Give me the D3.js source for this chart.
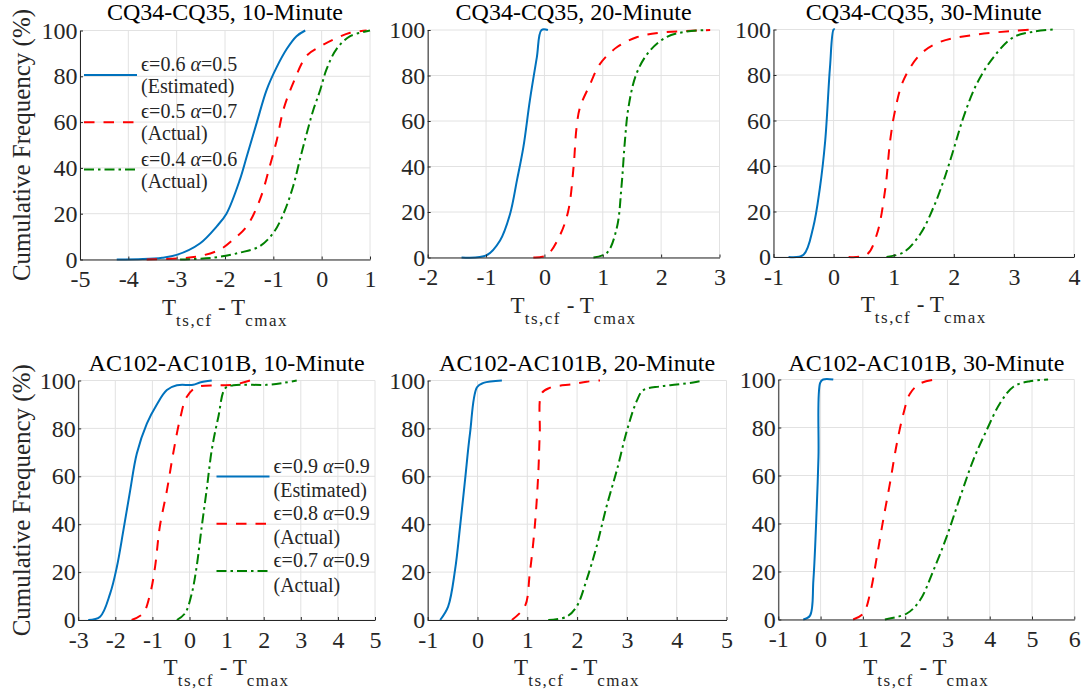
<!DOCTYPE html>
<html>
<head>
<meta charset="utf-8">
<script src="https://cdn.jsdelivr.net/npm/d3@7"></script>
<style>
  body { margin: 0; background: #fff; }
  .grid line { stroke: #e2e2e2; stroke-width: 1; }
  .axis path, .axis line { stroke: #262626; stroke-width: 1; }
</style>
</head>
<body>
<svg width="1085" height="698"></svg>
<script>
// panel titles and x ranges
var titles = ["CQ34-CQ35, 10-Minute", "CQ34-CQ35, 20-Minute", "CQ34-CQ35, 30-Minute",
              "AC102-AC101B, 10-Minute", "AC102-AC101B, 20-Minute", "AC102-AC101B, 30-Minute"];
var xDomains = [[-5, 1], [-2, 3], [-1, 4], [-3, 5], [-1, 5], [-1, 6]];
var yTicks = [0, 20, 40, 60, 80, 100];

// legend text
var topEps = ["0.6", "0.5", "0.4"], topAlpha = ["0.5", "0.7", "0.6"];
var botEps = ["0.9", "0.8", "0.7"], botAlpha = ["0.9", "0.9", "0.9"];
var kinds = ["(Estimated)", "(Actual)", "(Actual)"];

// cumulative curves [T_ts,cf - T_cmax, %]
var cq10Est = [[-4.24,0],[-3.7,0.2],[-3.3,0.8],[-3.0,2],[-2.52,7],[-2.17,14.5],[-1.97,20],[-1.69,35],[-1.55,45],[-1.34,60],[-1.14,74],[-0.93,84],[-0.72,92],[-0.52,97.5],[-0.34,100]];
var cq10Act1 = [[-3.62,0],[-2.93,0.5],[-2.52,1.5],[-2.1,4.4],[-1.83,8.7],[-1.55,14.5],[-1.28,26],[-1.07,41],[-0.93,52],[-0.79,65.5],[-0.59,77],[-0.31,89],[-0.03,93],[0.24,96],[0.59,99],[0.93,100]];
var cq10Act2 = [[-2.93,0],[-2.24,0.8],[-1.69,3],[-1.28,5.8],[-1.0,11.6],[-0.79,20],[-0.59,32],[-0.45,43.7],[-0.31,55],[-0.17,65.5],[-0.03,74],[0.10,83],[0.31,92],[0.59,97.5],[1.0,100]];

var cq20Est = [[-1.42,0],[-0.99,1],[-0.76,7.5],[-0.59,19],[-0.47,34],[-0.36,48.6],[-0.25,69],[-0.13,88],[-0.05,100],[0.06,100]];
var cq20Act1 = [[-0.19,0],[0.04,1],[0.27,10],[0.41,20.7],[0.50,40],[0.55,57],[0.61,66],[0.78,76],[0.95,85],[1.24,92.4],[1.58,96.8],[1.98,98.8],[2.84,100]];
var cq20Act2 = [[0.84,0],[1.07,2],[1.24,13],[1.32,31],[1.38,51.5],[1.44,66],[1.58,81],[1.81,91],[2.10,97],[2.44,99.3],[2.78,100]];

var cq30Est = [[-0.75,0],[-0.50,1],[-0.34,13],[-0.23,30],[-0.14,51],[-0.06,83.5],[0.0,100],[0.02,100]];
var cq30Act1 = [[0.25,0],[0.55,1],[0.72,10],[0.86,30],[0.94,51],[1.02,64],[1.16,77.5],[1.44,89],[1.77,94.5],[2.27,97.4],[2.94,99.3],[3.32,100]];
var cq30Act2 = [[0.88,0],[1.16,2],[1.44,10],[1.66,21.7],[1.83,33.5],[1.99,46.7],[2.16,61.4],[2.38,76],[2.66,87.8],[2.99,96.6],[3.32,99],[3.65,100]];

var ac10Est = [[-2.73,0],[-2.41,1.4],[-2.14,11],[-1.96,22],[-1.78,37.6],[-1.60,54],[-1.42,69.5],[-1.15,82],[-0.88,90],[-0.61,96],[-0.34,98],[0.10,98.2],[0.28,99.2],[0.60,100]];
var ac10Act1 = [[-1.56,0],[-1.25,2.8],[-1.06,11],[-0.93,22],[-0.80,39],[-0.61,54],[-0.44,69.5],[-0.26,83.6],[-0.08,93],[0.19,97.2],[0.73,98],[1.18,98.2],[1.63,100]];
var ac10Act2 = [[-0.34,0],[-0.12,2.8],[0.06,11],[0.19,22],[0.33,39],[0.46,54],[0.60,71],[0.78,85],[0.96,96.7],[1.18,98],[2.08,98.2],[2.53,99],[2.89,100]];

var ac20Est = [[-0.75,0],[-0.59,5.6],[-0.45,21],[-0.35,39],[-0.25,58.5],[-0.15,78],[-0.01,97.2],[0.12,99],[0.49,100]];
var ac20Act1 = [[0.69,0],[0.95,5.6],[1.05,19.5],[1.15,39],[1.22,61],[1.25,78],[1.29,94.7],[1.46,97],[1.92,98.5],[2.19,99.5],[2.46,100]];
var ac20Act2 = [[1.42,0],[1.79,1.4],[1.99,5.6],[2.19,16.7],[2.39,30.6],[2.59,47.3],[2.80,62.7],[3.0,79],[3.20,91.6],[3.33,96],[3.66,97.5],[4.0,98.3],[4.33,99.2],[4.53,100]];

var ac30Est = [[-0.41,0],[-0.25,1.6],[-0.17,16.4],[-0.09,47],[-0.05,67.8],[-0.01,98.6],[0.06,100],[0.30,100]];
var ac30Act1 = [[0.77,0],[1.01,2.5],[1.17,10.8],[1.33,26],[1.48,41.4],[1.64,56.7],[1.80,73],[1.96,85.8],[2.11,94],[2.35,98.3],[2.71,100]];
var ac30Act2 = [[1.52,0],[2.04,2.5],[2.35,8],[2.67,20.5],[2.98,34.4],[3.30,51],[3.61,66.4],[3.93,79],[4.24,90],[4.56,97],[4.95,99.3],[5.38,100]];

var series = [
  [cq10Est, cq10Act1, cq10Act2], [cq20Est, cq20Act1, cq20Act2], [cq30Est, cq30Act1, cq30Act2],
  [ac10Est, ac10Act1, ac10Act2], [ac20Est, ac20Act1, ac20Act2], [ac30Est, ac30Act1, ac30Act2]
];

var colors = ["#0072BD", "#FF0000", "#008000"];
var dashes = [null, "10.5,9", "10,4,2.5,4"];
var serif = "'Liberation Serif', 'Times New Roman', serif";
var ink = "#262626";

// plot boxes in pixels
var layout = [
  {x0: 80,    x1: 370,    y0: 30.5,  y1: 259.5},
  {x0: 427.7, x1: 719.5,  y0: 30,    y1: 257.5},
  {x0: 773.5, x1: 1074,   y0: 29.5,  y1: 257},
  {x0: 78.2,  x1: 375,    y0: 380.5, y1: 620},
  {x0: 427.7, x1: 726.5,  y0: 380.5, y1: 620},
  {x0: 778.3, x1: 1074.3, y0: 379.5, y1: 619.5}
];

var svg = d3.select("svg");

layout.forEach(function(L, i) {
  var dom = xDomains[i];
  var xt = d3.range(dom[0], dom[1] + 1);
  var x = d3.scaleLinear().domain(dom).range([L.x0, L.x1]);
  var y = d3.scaleLinear().domain([0, 100]).range([L.y1, L.y0]);
  var g = svg.append("g");

  var grid = g.append("g").attr("class", "grid");
  grid.selectAll(".gx").data(xt).enter().append("line")
      .attr("x1", function(d) { return x(d); }).attr("x2", function(d) { return x(d); })
      .attr("y1", L.y0).attr("y2", L.y1);
  grid.selectAll(".gy").data(yTicks).enter().append("line")
      .attr("y1", function(d) { return y(d); }).attr("y2", function(d) { return y(d); })
      .attr("x1", L.x0).attr("x2", L.x1);

  var line = d3.line()
      .x(function(d) { return x(d[0]); })
      .y(function(d) { return y(d[1]); })
      .curve(d3.curveCatmullRom.alpha(0.5));

  series[i].forEach(function(s, k) {
    g.append("path")
        .datum(s)
        .attr("d", line)
        .attr("fill", "none")
        .attr("stroke", colors[k])
        .attr("stroke-width", 2)
        .attr("stroke-dasharray", dashes[k]);
  });

  g.append("g").attr("class", "axis")
      .attr("transform", "translate(0," + L.y1 + ")")
      .call(d3.axisBottom(x).tickValues(xt).tickFormat(function(d) { return String(d); })
            .tickSizeInner(-3).tickSizeOuter(0).tickPadding(10.5));
  g.append("g").attr("class", "axis")
      .attr("transform", "translate(" + L.x0 + ",0)")
      .call(d3.axisLeft(y).tickValues(yTicks).tickSizeInner(-3).tickSizeOuter(0).tickPadding(2.5));
  g.selectAll(".axis text")
      .style("font-family", serif).style("font-size", "24px").style("fill", ink);

  g.append("text")
      .attr("x", (L.x0 + L.x1) / 2).attr("y", i < 3 ? 20 : 371)
      .attr("text-anchor", "middle")
      .style("font-family", serif).style("font-size", "24px").style("fill", "#000")
      .text(titles[i]);

  // x label with subscripts
  var xl = g.append("text")
      .attr("x", (L.x0 + L.x1) / 2).attr("y", L.y1 + 55)
      .attr("text-anchor", "middle")
      .style("font-family", serif).style("font-size", "23px").style("fill", ink);
  xl.append("tspan").text("T");
  xl.append("tspan").attr("dy", 11).style("font-size", "17px").style("letter-spacing", "1.5px").text("ts,cf");
  xl.append("tspan").attr("dy", -11).text(" - T");
  xl.append("tspan").attr("dy", 11).style("font-size", "17px").style("letter-spacing", "1.5px").text("cmax");

  if (i % 3 === 0) {
    g.append("text")
        .attr("transform", "translate(30," + (L.y0 + L.y1) / 2 + ") rotate(-90)")
        .attr("text-anchor", "middle")
        .style("font-family", serif).style("font-size", "25px").style("fill", ink)
        .text("Cumulative Frequency (%)");
  }
});

// legends
function legend(px, py, gap, eps, alpha) {
  var lg = svg.append("g");
  for (var k = 0; k < 3; k++) {
    var by = py + k * 47.3;
    lg.append("line")
        .attr("x1", px).attr("x2", px + 53)
        .attr("y1", by + 4).attr("y2", by + 4)
        .attr("stroke", colors[k]).attr("stroke-width", 2)
        .attr("stroke-dasharray", dashes[k]);
    var t = lg.append("text").attr("x", px + 57).attr("y", by)
        .style("font-family", serif).style("font-size", "20px").style("fill", ink);
    t.append("tspan").text("\u03f5=" + eps[k] + " ");
    t.append("tspan").style("font-style", "italic").text("\u03b1");
    t.append("tspan").text("=" + alpha[k]);
    lg.append("text").attr("x", px + 57).attr("y", by + gap)
        .style("font-family", serif).style("font-size", "20px").style("fill", ink)
        .text(kinds[k]);
  }
}
legend(84, 71, 22, topEps, topAlpha);
legend(216.5, 472.5, 24.5, botEps, botAlpha);
</script>
</body>
</html>
